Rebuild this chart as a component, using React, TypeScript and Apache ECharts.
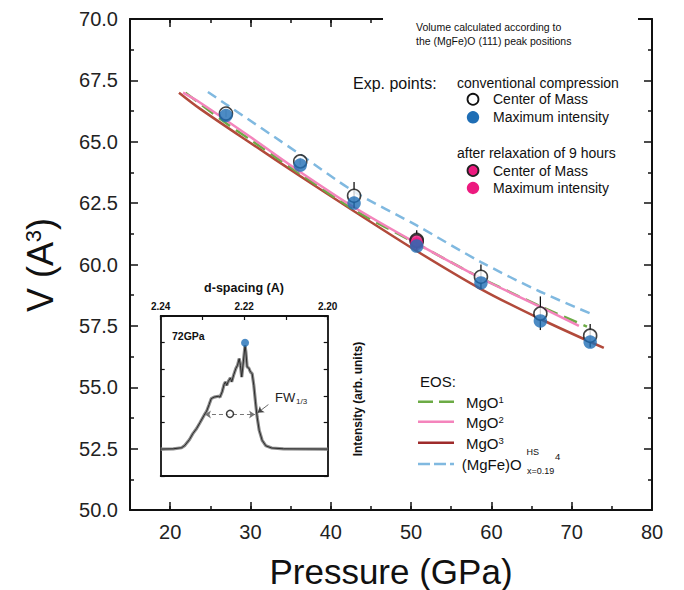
import React, { useEffect, useRef } from 'react';
import * as echarts from 'echarts';

const FONT = '"Liberation Sans", Arial, Helvetica, sans-serif';

// Experimental points (conventional compression)
const expPressure = [26.95, 36.2, 42.9, 50.7, 58.7, 66.1, 72.3];
const comVolume = [66.15, 64.2, 62.8, 61.0, 59.5, 58.0, 57.1];
const comErrLow = [66.0, 64.05, 62.3, 60.6, 59.0, 57.33, 56.62];
const comErrHigh = [66.3, 64.35, 63.36, 61.4, 60.0, 58.7, 57.58];
const maxVolume = [66.07, 64.05, 62.5, 60.75, 59.25, 57.7, 56.84];

// After relaxation of 9 hours
const relaxPressure = [50.7];
const relaxComVolume = [60.95];
const relaxMaxVolume = [60.85];

// EOS curves
const mgo1P = [21.9, 26.95, 30, 36.2, 43, 50.7, 58.7, 66.1, 71.9];
const mgo1V = [67.0, 65.76, 65.08, 63.69, 62.21, 60.85, 59.45, 58.3, 57.47];
const mgo2P = [21.6, 23.7, 30, 36.2, 43, 50.7, 58.7, 66.1, 70.9];
const mgo2V = [67.0, 66.6, 65.19, 63.77, 62.31, 60.86, 59.44, 58.27, 57.5];
const mgo3P = [21.1, 23.7, 30, 36.2, 43, 50.7, 58.7, 66.1, 74.0];
const mgo3V = [67.0, 66.35, 64.95, 63.6, 62.15, 60.55, 59.0, 57.78, 56.6];
const mgfeoP = [24.7, 26.95, 36.2, 43, 50.7, 58.7, 66.1, 72.5];
const mgfeoV = [67.03, 66.53, 64.48, 62.95, 61.59, 60.1, 58.89, 57.98];

// Axis ticks
const xMajor = [20, 30, 40, 50, 60, 70, 80];

// Inset: 72 GPa diffraction peak
const insetD = [2.24, 2.237, 2.235, 2.2342, 2.2331, 2.2323, 2.2314, 2.2306, 2.2296, 2.229, 2.2284, 2.2279, 2.2272, 2.2262, 2.2258, 2.2253, 2.2248, 2.2245, 2.2242, 2.2238, 2.2233, 2.223, 2.2225, 2.222, 2.2216, 2.2212, 2.2209, 2.2206, 2.2202, 2.2198, 2.2196, 2.2193, 2.2189, 2.2185, 2.2181, 2.2177, 2.2173, 2.2169, 2.2164, 2.2157, 2.2148, 2.2134, 2.2106, 2.2];
const insetI = [0.01, 0.02, 0.06, 0.15, 0.37, 0.59, 0.78, 1.0, 1.28, 1.43, 1.68, 1.9, 1.96, 1.99, 1.96, 2.15, 2.44, 2.53, 2.4, 2.55, 2.68, 2.53, 2.8, 3.03, 3.15, 3.4, 3.15, 2.71, 3.28, 3.9, 3.65, 3.09, 3.05, 2.9, 2.84, 2.4, 1.78, 1.21, 0.71, 0.34, 0.13, 0.05, 0.02, 0.01];
const peakPoint = [2.2198, 4.0];
const comPoint = [2.2234, 1.33];
const fwD = [2.2294, 2.2174];
const fwI = 1.31;
const fwArrowFrom = [2.2142, 1.68];
const fwArrowTo = [2.2168, 1.37];

const zip = (a: number[], b: number[]) => a.map((v, i) => [v, b[i]]);

const BLUE = '#1f6eb5';
const PINKDOT = '#ec1a7f';
const GREEN = '#6cab45';
const PINK = '#f484bc';
const BROWN = '#b24a3b';
const LBLUE = '#80b9e0';

function buildOption(): any {
  const t = (x: number, y: number, text: string, size: number, extra: any = {}) => ({
    type: 'text',
    x,
    y,
    z: 110,
    style: {
      text,
      fontSize: size,
      fontFamily: FONT,
      fill: '#111',
      align: 'left',
      verticalAlign: 'middle',
      ...extra,
    },
  });
  const supRich = {
    a: { fontSize: 15, fontFamily: FONT, fill: '#111' },
    s: { fontSize: 9.5, fontFamily: FONT, fill: '#111', verticalAlign: 'top' },
  };

  const graphics: any[] = [
    { type: 'rect', z: 100, shape: { x: 383, y: 8, width: 255, height: 44 }, style: { fill: '#fff' } },
    t(416, 26.7, 'Volume calculated according to', 10.5),
    t(416, 41, 'the (MgFe)O (111) peak positions', 10.5),
    t(353, 83, 'Exp. points:', 16),
    t(457, 83, 'conventional compression', 14),
    { type: 'circle', z: 110, shape: { cx: 473, cy: 99.3, r: 5.5 }, style: { fill: '#fff', stroke: '#111', lineWidth: 1.8 } },
    t(493, 99.3, 'Center of Mass', 14),
    { type: 'circle', z: 110, shape: { cx: 473, cy: 117.3, r: 6.2 }, style: { fill: BLUE } },
    t(493, 117.3, 'Maximum intensity', 14),
    t(457, 153, 'after relaxation of 9 hours', 14),
    { type: 'circle', z: 110, shape: { cx: 473, cy: 170.5, r: 5.5 }, style: { fill: PINKDOT, stroke: '#222', lineWidth: 1.8 } },
    t(493, 170.5, 'Center of Mass', 14),
    { type: 'circle', z: 110, shape: { cx: 473, cy: 188, r: 6.2 }, style: { fill: PINKDOT } },
    t(493, 188, 'Maximum intensity', 14),

    // EOS legend
    t(420, 381.7, 'EOS:', 15),
    { type: 'line', z: 110, shape: { x1: 418, y1: 401.7, x2: 454, y2: 401.7 }, style: { stroke: GREEN, lineWidth: 2.5, lineDash: [15, 6] } },
    t(466, 402, '{a|MgO}{s|1}', 15, { rich: supRich }),
    { type: 'line', z: 110, shape: { x1: 418, y1: 421.7, x2: 454, y2: 421.7 }, style: { stroke: PINK, lineWidth: 2.5 } },
    t(466, 422, '{a|MgO}{s|2}', 15, { rich: supRich }),
    { type: 'line', z: 110, shape: { x1: 418, y1: 442.7, x2: 454, y2: 442.7 }, style: { stroke: '#9e2b2b', lineWidth: 2.5 } },
    t(466, 443, '{a|MgO}{s|3}', 15, { rich: supRich }),
    { type: 'line', z: 110, shape: { x1: 418, y1: 464, x2: 454, y2: 464 }, style: { stroke: LBLUE, lineWidth: 2.5, lineDash: [12, 4] } },
    t(461.7, 464, '(MgFe)O', 15),
    t(526.5, 451.5, 'HS', 9),
    t(527, 470.5, 'x=0.19', 9),
    t(555, 456.5, '4', 9.5),

    // axis names
    {
      type: 'text',
      x: 40,
      y: 265,
      rotation: Math.PI / 2,
      z: 110,
      style: {
        text: '{a|V (A}{s|3}{a|)}',
        align: 'center',
        verticalAlign: 'middle',
        rich: {
          a: { fontSize: 36, fontFamily: FONT, fill: '#111' },
          s: { fontSize: 22, fontFamily: FONT, fill: '#111', verticalAlign: 'top' },
        },
      },
    },
    t(391, 571, 'Pressure (GPa)', 35, { align: 'center' }),

    // inset texts
    t(244, 288, 'd-spacing (A)', 12.5, { align: 'center', fontWeight: 'bold' }),
    t(172, 336, '72GPa', 10.5, { fontWeight: 'bold' }),
    {
      type: 'text',
      x: 358,
      y: 399,
      rotation: Math.PI / 2,
      z: 110,
      style: { text: 'Intensity (arb. units)', fontSize: 12, fontWeight: 'bold', fontFamily: FONT, fill: '#111', align: 'center', verticalAlign: 'middle' },
    },
    t(275, 397, 'FW', 13, { fill: '#222' }),
    t(296, 401, '1/3', 8, { fill: '#222' }),
  ];

  const mainAxisLine = { show: true, onZero: false, lineStyle: { color: '#111', width: 2 } };
  const insetAxisLine = { show: true, onZero: false, lineStyle: { color: '#111', width: 1.8 } };

  return {
    animation: false,
    backgroundColor: '#fff',
    textStyle: { fontFamily: FONT },
    grid: [
      { left: 130, right: 32, top: 19, bottom: 80 },
      { left: 130, right: 32, top: 19, bottom: 80 },
      { left: 160.7, top: 316, width: 167, height: 160 },
    ],
    xAxis: [
      {
        gridIndex: 0, type: 'value', position: 'bottom', min: 15, max: 80,
        axisLine: mainAxisLine,
        axisTick: { show: true, inside: true, length: 8, customValues: xMajor, lineStyle: { color: '#111', width: 1.5 } },
        axisLabel: { show: true, customValues: xMajor, fontSize: 20, margin: 12, color: '#222', fontFamily: FONT },
        splitLine: { show: false },
      },
      {
        gridIndex: 0, type: 'value', position: 'top', min: 15, max: 80,
        axisLine: mainAxisLine,
        axisTick: { show: true, inside: true, length: 8, customValues: xMajor, lineStyle: { color: '#111', width: 1.5 } },
        axisLabel: { show: false },
        splitLine: { show: false },
      },
      {
        gridIndex: 1, type: 'value', position: 'bottom', min: 15, max: 80, interval: 5,
        axisLine: { show: false, onZero: false },
        axisTick: { show: true, inside: true, length: 4, lineStyle: { color: '#111', width: 1.5 } },
        axisLabel: { show: false },
        splitLine: { show: false },
      },
      {
        gridIndex: 1, type: 'value', position: 'top', min: 15, max: 80, interval: 5,
        axisLine: { show: false, onZero: false },
        axisTick: { show: true, inside: true, length: 4, lineStyle: { color: '#111', width: 1.5 } },
        axisLabel: { show: false },
        splitLine: { show: false },
      },
      {
        gridIndex: 2, type: 'value', position: 'top', min: 2.2, max: 2.24, interval: 0.01, inverse: true,
        axisLine: insetAxisLine,
        axisTick: { show: true, inside: true, length: 4, lineStyle: { color: '#111', width: 1.2 } },
        axisLabel: {
          show: true, fontSize: 10, fontWeight: 'bold', margin: 5, color: '#111', fontFamily: FONT,
          showMinLabel: true, showMaxLabel: true,
          formatter: (v: number) => {
            const k = Math.round(v * 100);
            return k % 2 === 0 ? (k / 100).toFixed(2) : '';
          },
        },
        splitLine: { show: false },
      },
      {
        gridIndex: 2, type: 'value', position: 'bottom', min: 2.2, max: 2.24, inverse: true,
        axisLine: insetAxisLine,
        axisTick: { show: false },
        axisLabel: { show: false },
        splitLine: { show: false },
      },
    ],
    yAxis: [
      {
        gridIndex: 0, type: 'value', position: 'left', min: 50, max: 70, interval: 2.5,
        axisLine: mainAxisLine,
        axisTick: { show: true, inside: true, length: 8, lineStyle: { color: '#111', width: 1.5 } },
        minorTick: { show: true, splitNumber: 2, length: 4, lineStyle: { color: '#111', width: 1.5 } },
        axisLabel: { show: true, fontSize: 20, margin: 12, color: '#222', fontFamily: FONT, showMinLabel: true, showMaxLabel: true, formatter: (v: number) => v.toFixed(1) },
        splitLine: { show: false },
        minorSplitLine: { show: false },
      },
      {
        gridIndex: 0, type: 'value', position: 'right', min: 50, max: 70, interval: 2.5,
        axisLine: mainAxisLine,
        axisTick: { show: true, inside: true, length: 8, lineStyle: { color: '#111', width: 1.5 } },
        minorTick: { show: true, splitNumber: 2, length: 4, lineStyle: { color: '#111', width: 1.5 } },
        axisLabel: { show: false },
        splitLine: { show: false },
        minorSplitLine: { show: false },
      },
      { gridIndex: 1, type: 'value', min: 50, max: 70, show: false },
      {
        gridIndex: 2, type: 'value', position: 'left', min: -1, max: 5, interval: 1,
        axisLine: insetAxisLine,
        axisTick: { show: true, inside: true, length: 4, lineStyle: { color: '#111', width: 1.2 } },
        axisLabel: { show: false },
        splitLine: { show: false },
      },
      {
        gridIndex: 2, type: 'value', position: 'right', min: -1, max: 5, interval: 1,
        axisLine: insetAxisLine,
        axisTick: { show: true, inside: true, length: 4, lineStyle: { color: '#111', width: 1.2 } },
        axisLabel: { show: false },
        splitLine: { show: false },
      },
    ],
    graphic: graphics,
    series: [
      { name: 'MgO3', type: 'line', xAxisIndex: 0, yAxisIndex: 0, data: zip(mgo3P, mgo3V), showSymbol: false, symbol: 'none', smooth: 0.3, lineStyle: { color: BROWN, width: 2.5 }, z: 2 },
      { name: 'MgO1', type: 'line', xAxisIndex: 0, yAxisIndex: 0, data: zip(mgo1P, mgo1V), showSymbol: false, symbol: 'none', smooth: 0.3, lineStyle: { color: GREEN, width: 2.5, type: [14, 7] }, z: 2 },
      { name: 'MgO2', type: 'line', xAxisIndex: 0, yAxisIndex: 0, data: zip(mgo2P, mgo2V), showSymbol: false, symbol: 'none', smooth: 0.3, lineStyle: { color: PINK, width: 2.5 }, z: 2 },
      { name: '(MgFe)O', type: 'line', xAxisIndex: 0, yAxisIndex: 0, data: zip(mgfeoP, mgfeoV), showSymbol: false, symbol: 'none', smooth: 0.3, lineStyle: { color: LBLUE, width: 2.5, type: [10, 6] }, z: 2 },
      {
        name: 'err', type: 'custom', xAxisIndex: 0, yAxisIndex: 0,
        data: expPressure.map((p, i) => [p, comErrLow[i], comErrHigh[i]]),
        encode: { x: 0, y: [1, 2] },
        renderItem: (params: any, api: any) => {
          const x = api.value(0);
          const lo = api.coord([x, api.value(1)]);
          const hi = api.coord([x, api.value(2)]);
          return { type: 'line', shape: { x1: lo[0], y1: lo[1], x2: hi[0], y2: hi[1] }, style: { stroke: '#111', lineWidth: 1.3 } };
        },
        z: 3,
      },
      { name: 'Center of Mass', type: 'scatter', xAxisIndex: 0, yAxisIndex: 0, data: zip(expPressure, comVolume), symbol: 'circle', symbolSize: 13, itemStyle: { color: '#fff', borderColor: '#111', borderWidth: 1.6 }, z: 4 },
      { name: 'Relax CoM', type: 'scatter', xAxisIndex: 0, yAxisIndex: 0, data: zip(relaxPressure, relaxComVolume), symbol: 'circle', symbolSize: 13, itemStyle: { color: PINKDOT, borderColor: '#222', borderWidth: 1.6 }, z: 5 },
      { name: 'Relax Max', type: 'scatter', xAxisIndex: 0, yAxisIndex: 0, data: zip(relaxPressure, relaxMaxVolume), symbol: 'circle', symbolSize: 13, itemStyle: { color: PINKDOT }, z: 5 },
      { name: 'Maximum intensity', type: 'scatter', xAxisIndex: 0, yAxisIndex: 0, data: zip(expPressure, maxVolume), symbol: 'circle', symbolSize: 13.5, itemStyle: { color: BLUE }, z: 6 },

      // inset
      { name: 'peak halo', type: 'line', xAxisIndex: 4, yAxisIndex: 3, data: zip(insetD, insetI), symbol: 'none', lineStyle: { color: '#8c8c8c', width: 3.2 }, z: 2 },
      {
        name: 'peak', type: 'line', xAxisIndex: 4, yAxisIndex: 3, data: zip(insetD, insetI), symbol: 'none', lineStyle: { color: '#2a2a2a', width: 1 }, z: 3,
        markLine: {
          silent: true,
          animation: false,
          label: { show: false },
          symbolSize: 6,
          data: [
            [
              { coord: [fwD[0], fwI], symbol: 'arrow', lineStyle: { color: '#777', width: 1, type: [4, 3] } },
              { coord: [fwD[1], fwI], symbol: 'arrow' },
            ],
            [
              { coord: fwArrowFrom, symbol: 'none', lineStyle: { color: '#444', width: 0.8, type: 'solid' } },
              { coord: fwArrowTo, symbol: 'arrow' },
            ],
          ],
        },
      },
      { name: 'peak max', type: 'scatter', xAxisIndex: 4, yAxisIndex: 3, data: [peakPoint], symbol: 'circle', symbolSize: 8, itemStyle: { color: BLUE }, z: 5 },
      { name: 'peak com', type: 'scatter', xAxisIndex: 4, yAxisIndex: 3, data: [comPoint], symbol: 'circle', symbolSize: 7, itemStyle: { color: '#fff', borderColor: '#111', borderWidth: 1.5 }, z: 5 },
    ],
  };
}

export default function App() {
  const ref = useRef<HTMLDivElement>(null);
  useEffect(() => {
    if (!ref.current) return;
    const chart = echarts.init(ref.current, undefined, { renderer: 'svg' });
    chart.setOption(buildOption());
    return () => chart.dispose();
  }, []);
  return <div ref={ref} style={{ position: 'fixed', left: 0, top: 0, width: 684, height: 590, background: '#fff' }} />;
}
